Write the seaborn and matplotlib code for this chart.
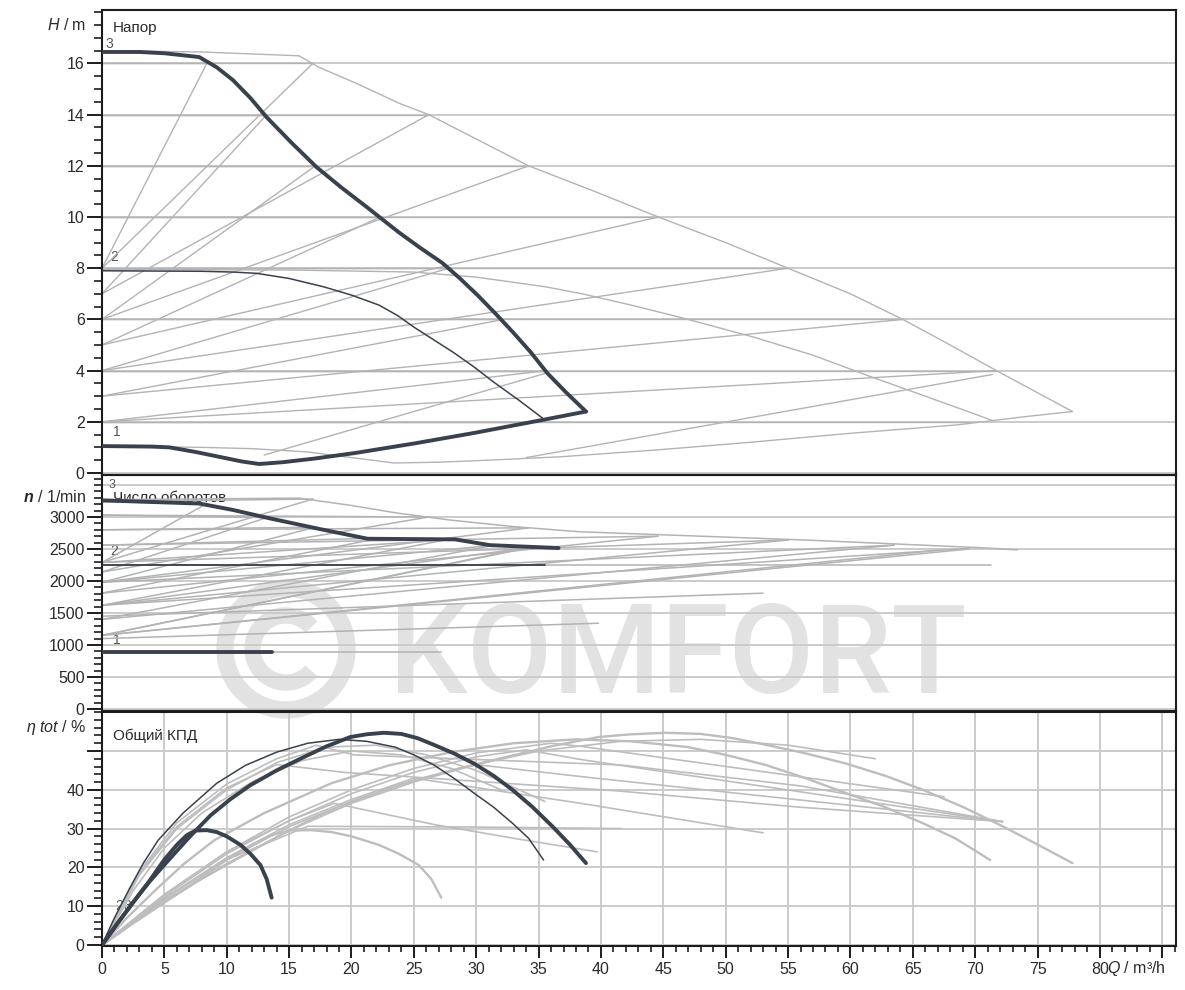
import matplotlib
matplotlib.use("Agg")
import matplotlib.pyplot as plt
from matplotlib.patches import Wedge
from matplotlib.ticker import MultipleLocator, FixedLocator
import pandas as pd
import seaborn as sns

# ---------------- head H(Q), single pump (dark) ----------------
H_Q_MAX = [0, 3, 5, 7.8, 9.2, 10.5, 11.9, 13.2, 15.2, 17.2, 19.2, 21.2, 23.8, 25.5,
           27.3, 28.7, 30.1, 31.5, 33.0, 34.4, 35.7, 37.2, 38.8]
H_MAX = [16.45, 16.45, 16.4, 16.25, 15.85, 15.35, 14.65, 13.9, 12.9, 11.95, 11.15,
         10.4, 9.4, 8.8, 8.2, 7.6, 6.95, 6.25, 5.47, 4.7, 3.9, 3.15, 2.4]
H_Q_MID = [0, 8, 10.5, 12.4, 15.0, 17.8, 20.0, 22.2, 23.7, 25.0, 26.6, 28.2, 29.8,
           31.4, 33.4, 35.3]
H_MID = [7.9, 7.88, 7.85, 7.8, 7.6, 7.27, 6.95, 6.56, 6.15, 5.7, 5.2, 4.7, 4.15,
         3.55, 2.85, 2.15]
H_Q_MIN = [0, 4.0, 5.4, 7.5, 9.5, 11.2, 12.6, 14.5, 17.0, 20.3, 25.0, 29.8, 35.3, 38.8]
H_MIN = [1.05, 1.03, 1.0, 0.82, 0.62, 0.45, 0.35, 0.42, 0.56, 0.78, 1.15, 1.56,
         2.07, 2.4]

# ---------------- head H(Q), parallel operation (grey) ----------------
P_Q_MAX = [0, 8, 15.8, 17.4, 20.5, 23.8, 26.2, 30.0, 34.2, 39.5, 44.6, 50.0, 55.0,
           60.0, 64.2, 68.0, 71.7, 77.8]
P_H_MAX = [16.5, 16.45, 16.3, 15.85, 15.2, 14.45, 14.0, 13.05, 12.0, 11.0, 10.0, 9.0,
           8.0, 7.0, 6.0, 5.0, 4.0, 2.4]
P_Q_MID = [0, 15, 25, 30, 33, 35.6, 38.5, 42.5, 46.6, 52.3, 57, 61.7, 66, 71.4]
P_H_MID = [7.95, 7.93, 7.85, 7.65, 7.45, 7.27, 7.0, 6.55, 6.05, 5.3, 4.6, 3.75, 3.0, 2.05]
P_Q_MIN = [0, 8, 12, 16.5, 20, 23.4, 27, 31, 36.7, 44.5, 52, 60, 68.6, 74, 77.8]
P_H_MIN = [1.05, 1.0, 0.95, 0.82, 0.6, 0.39, 0.42, 0.5, 0.63, 0.9, 1.2, 1.55, 1.88,
           2.2, 2.4]

# variable differential pressure lines (start head at Q=0 -> set head on max curve)
DPV_H0 = [2, 3, 4, 5, 6, 7, 8]
DPV_H_END = [4, 6, 8, 10, 12, 14, 16]
DPV_Q1 = [35.7, 32.2, 27.8, 22.3, 17.1, 13.2, 8.4]
DPV_Q2 = [71.7, 64.2, 55.0, 44.6, 34.2, 26.2, 16.9]
# constant differential pressure lines
DPC_H = [2, 4, 6, 8, 10, 12, 14, 16]
DPC_Q1 = [34.5, 35.7, 32.2, 27.8, 22.3, 17.1, 13.2, 8.4]
DPC_Q2 = [69.5, 71.7, 64.2, 55.0, 44.6, 34.2, 26.2, 16.9]
# further head lines rising from the minimum curve
EXTRA_H_Q = [[13, 35.6], [34, 71.4]]
EXTRA_H = [[0.7, 3.9], [0.6, 3.85]]

# ---------------- speed n(Q) ----------------
N_Q_MAX = [0, 7.8, 10.5, 13.3, 17.5, 21.3, 28.3, 31.1, 36.6]
N_MAX = [3260, 3210, 3110, 2985, 2810, 2660, 2650, 2560, 2515]
N_Q_MID = [0, 35.5]
N_MID = [2250, 2250]
N_Q_MIN = [0, 13.6]
N_MIN = [890, 890]
P_N_Q_MAX = [0, 15.8, 20.0, 23.7, 28, 33, 38.2, 48, 56.4, 63.5, 71, 73.4]
P_N_MAX = [3270, 3295, 3180, 3060, 2950, 2850, 2770, 2700, 2640, 2580, 2515, 2485]
P_N_Q_MID = [0, 71.3]
P_N_MID = [2250, 2250]
P_N_Q_MIN = [0, 27.2]
P_N_MIN = [890, 890]

DPV_N0 = [1150, 1400, 1620, 1810, 1980, 2140, 2290]
DPV_N1_END = [2530, 2560, 2640, 2670, 2840, 2990, 3210]
DPV_NQ1 = [34.5, 31.5, 27.5, 22.3, 17.1, 13.2, 8.4]
DPV_N2_END = [2500, 2560, 2640, 2700, 2830, 3000, 3280]
DPV_NQ2 = [69.5, 63.5, 55.0, 44.6, 34.2, 26.2, 16.9]
DPC_N0 = [1150, 1620, 1980, 2290, 2560, 2800, 3030, 3240]
DPC_N1_END = [2500, 2530, 2560, 2640, 2670, 2840, 2990, 3210]
DPC_NQ1 = [33.5, 34.5, 31.5, 27.5, 22.3, 17.1, 13.2, 8.4]
DPC_N2_END = [2480, 2510, 2560, 2640, 2700, 2830, 3000, 3280]
DPC_NQ2 = [67.0, 69.5, 63.5, 55.0, 44.6, 34.2, 26.2, 16.9]
EXTRA_N_Q = [[0, 39.8], [0, 53.0]]
EXTRA_N = [[1100, 1340], [1450, 1810]]

# ---------------- total efficiency eta(Q) ----------------
E_Q_MAX = [0, 1.2, 2.5, 3.8, 5.2, 7.0, 8.7, 10.3, 11.9, 14.0, 15.9, 18.0, 19.9, 21.2,
           22.6, 24.0, 25.3, 26.6, 28.2, 29.8, 31.4, 32.9, 34.5, 36.1, 37.5, 38.8]
E_MAX = [0, 5.4, 11, 16.3, 21.4, 27.8, 33.4, 37.6, 41.2, 45, 48, 51.2, 53.6, 54.3,
         54.7, 54.4, 53.3, 51.6, 49.4, 46.8, 43.6, 40.0, 35.6, 30.6, 25.9, 21.1]
E_Q_MID = [0, 1.0, 2.2, 3.3, 4.5, 6.5, 9.2, 11.5, 14, 16.5, 19, 21.2, 23.5, 25.0,
           26.6, 28.2, 29.8, 31.4, 32.9, 34.2, 35.4]
E_MID = [0, 7, 14.5, 21, 27, 34, 41.7, 46.3, 49.7, 52, 53, 52.5, 51, 49, 46.4, 43,
         39.2, 35.5, 31.4, 27.5, 21.9]
E_Q_MIN = [0, 1.2, 2.5, 3.8, 5, 6.0, 6.8, 7.5, 8.4, 9.2, 10, 11.1, 11.9, 12.7, 13.2, 13.6]
E_MIN = [0, 5.4, 11, 16.5, 22, 25.8, 28.3, 29.5, 29.6, 29.1, 28, 25.8, 23.5, 20.6,
         17, 12.2]

P_E_Q_MAX = [0, 2.4, 5, 7.6, 10.4, 14, 17.4, 20.6, 23.8, 28, 31.8, 36, 39.8, 42.4,
             45.2, 48, 50.6, 53.2, 56.4, 59.6, 62.8, 65.8, 69, 72.2, 75, 77.8]
P_E_MAX = [0, 5.4, 11, 16.3, 21.4, 27.8, 33.4, 37.6, 41.2, 45, 48, 51.2, 53.6, 54.3,
           54.7, 54.4, 53.3, 51.6, 49.4, 46.8, 43.6, 40.0, 35.6, 30.6, 25.9, 21.1]
P_E_Q_MID = [0, 2, 4.4, 6.6, 9, 13, 18.4, 23, 28, 33, 38, 42.4, 47, 50, 53.2, 56.4,
             59.6, 62.8, 65.8, 68.4, 71.2]
P_E_MID = [0, 7, 14.5, 21, 27, 34, 41.7, 46.3, 49.7, 52, 53, 52.5, 51, 49, 46.4, 43,
           39.2, 35.5, 31.4, 27.5, 21.9]
P_E_Q_MIN = [0, 2.4, 5, 7.6, 10, 12, 13.6, 15, 16.8, 18.4, 20, 22.2, 23.8, 25.4, 26.4, 27.2]
P_E_MIN = [0, 5.4, 11, 16.5, 22, 25.8, 28.3, 29.5, 29.6, 29.1, 28, 25.8, 23.5, 20.6,
           17, 12.2]

# efficiency along the control lines
CTRL_E_Q = [
    [0, 3, 6, 10, 14, 17.2, 20.2, 41.6, 56, 72.2],
    [0, 3, 6, 10, 14, 19.4, 41.4, 56, 72.2],
    [0, 3, 6, 10, 14, 18, 22, 26, 30, 35.5],
    [0, 2.5, 5, 8, 12, 16, 20, 24, 28, 32],
    [0, 5, 10, 16.5, 30, 41.6],
    [0, 5, 10, 15, 18.6, 26.7, 33, 39.7],
    [0, 5, 10, 15, 20, 25, 38.4, 53],
    [0, 5, 10, 15, 20, 25, 30, 38.4, 72.2],
    [0, 5, 10, 15, 20, 25, 30, 34, 38.4, 72.2],
    [0, 5, 10, 15, 20, 25, 30, 36, 38.4, 67.5],
    [0, 5, 10, 15, 20, 25, 30, 35, 41.6, 48, 55, 62],
]
CTRL_E = [
    [0, 19, 31.5, 41.5, 48, 51.5, 49, 46.4, 41, 31.8],
    [0, 18.5, 30.5, 40.5, 46.5, 44.5, 39.7, 35.5, 31.8],
    [0, 18, 30, 40, 47, 51, 51.5, 49, 45, 37],
    [0, 14, 25, 34, 42, 47.5, 50, 49, 45.5, 40],
    [0, 12, 22, 30.6, 30.4, 30],
    [0, 13, 24, 32, 36.5, 31, 27.5, 24],
    [0, 12, 22.5, 31, 37.5, 43, 36.5, 28.9],
    [0, 12, 22, 30.5, 37, 42.5, 46.5, 43.4, 31.8],
    [0, 12.5, 23.5, 32, 39, 44.5, 48.5, 50.3, 47.8, 31.8],
    [0, 13, 24, 33, 40, 45.5, 49.5, 52, 51.2, 38.2],
    [0, 11.5, 21, 29.5, 36.5, 42, 46.5, 50, 52.5, 53, 51.5, 48],
]

X_TICKS = list(range(0, 90, 5))
X_LABELS = [str(v) for v in range(0, 85, 5)] + [""]

# ---------------- styling ----------------
sns.set_theme(style="white")
plt.rcParams["font.family"] = ["Liberation Sans", "DejaVu Sans"]
plt.rcParams["mathtext.fontset"] = "custom"
plt.rcParams["mathtext.rm"] = "Liberation Sans"
plt.rcParams["mathtext.it"] = "Liberation Sans:italic"
plt.rcParams["mathtext.bf"] = "Liberation Sans:bold:italic"

DARK = "#39414d"
GREY = "#b3b3b3"
GREY_E = "#bdbdbd"
GRID = "#cbcbcb"
FRAME = "#1c1c1c"
TXT = "#2a2a2a"
LBL = "#555555"
WM = "#e2e2e2"

W, HP = 1185, 990
fig = plt.figure(figsize=(W / 100, HP / 100), dpi=100)
fig.patch.set_facecolor("white")


def panel(top, bottom, left=102, right=1176):
    return fig.add_axes([left / W, 1 - bottom / HP, (right - left) / W, (bottom - top) / HP])


ax_h = panel(10, 475)
ax_n = panel(475, 711)
ax_e = panel(712, 946)


def line(ax, q, v, color, lw, z):
    sns.lineplot(x=q, y=v, ax=ax, color=color, linewidth=lw, sort=False,
                 estimator=None, legend=False, zorder=z)


def group(ax, qs, vs, color, lw, z):
    rows = []
    for i, (q, v) in enumerate(zip(qs, vs)):
        for a, b in zip(q, v):
            rows.append((i, a, b))
    df = pd.DataFrame(rows, columns=["curve", "Q", "val"])
    sns.lineplot(data=df, x="Q", y="val", units="curve", estimator=None, sort=False,
                 color=color, linewidth=lw, ax=ax, legend=False, zorder=z)


# ---- head panel ----
qs, vs = [], []
for h0, h1, q1, q2 in zip(DPV_H0, DPV_H_END, DPV_Q1, DPV_Q2):
    qs += [[0, q1], [0, q2]]
    vs += [[h0, h1], [h0, h1]]
for h, q1, q2 in zip(DPC_H, DPC_Q1, DPC_Q2):
    qs += [[0, q1], [0, q2]]
    vs += [[h, h], [h, h]]
qs += EXTRA_H_Q
vs += EXTRA_H
qs += [P_Q_MAX, P_Q_MID, P_Q_MIN]
vs += [P_H_MAX, P_H_MID, P_H_MIN]
group(ax_h, qs, vs, GREY, 1.0, 2)
line(ax_h, H_Q_MID, H_MID, DARK, 1.1, 4)
line(ax_h, H_Q_MAX, H_MAX, DARK, 2.8, 5)
line(ax_h, H_Q_MIN, H_MIN, DARK, 2.8, 5)

# ---- speed panel ----
qs, vs = [], []
for n0, n1, q1, n2, q2 in zip(DPV_N0, DPV_N1_END, DPV_NQ1, DPV_N2_END, DPV_NQ2):
    qs += [[0, q1], [0, q2]]
    vs += [[n0, n1], [n0, n2]]
for n0, n1, q1, n2, q2 in zip(DPC_N0, DPC_N1_END, DPC_NQ1, DPC_N2_END, DPC_NQ2):
    qs += [[0, q1], [0, q2]]
    vs += [[n0, n1], [n0, n2]]
qs += EXTRA_N_Q
vs += EXTRA_N
qs += [P_N_Q_MAX, P_N_Q_MID, P_N_Q_MIN]
vs += [P_N_MAX, P_N_MID, P_N_MIN]
group(ax_n, qs, vs, GREY, 1.1, 2)
line(ax_n, N_Q_MID, N_MID, DARK, 1.3, 4)
line(ax_n, N_Q_MAX, N_MAX, DARK, 2.8, 5)
line(ax_n, N_Q_MIN, N_MIN, DARK, 2.8, 5)

# ---- efficiency panel ----
group(ax_e, CTRL_E_Q, CTRL_E, GREY_E, 1.2, 2)
group(ax_e, [P_E_Q_MAX, P_E_Q_MID, P_E_Q_MIN], [P_E_MAX, P_E_MID, P_E_MIN], GREY_E, 1.7, 3)
line(ax_e, E_Q_MID, E_MID, DARK, 1.1, 4)
line(ax_e, E_Q_MAX, E_MAX, DARK, 2.8, 5)
line(ax_e, E_Q_MIN, E_MIN, DARK, 2.8, 5)

# ---- axes, ticks, grids ----
for ax in (ax_h, ax_n, ax_e):
    ax.set_xlim(0, 86.1)
    ax.set_facecolor("none")
    ax.set_xlabel("")
    ax.set_ylabel("")
    ax.set_axisbelow(True)
    for s in ax.spines.values():
        s.set_visible(True)
        s.set_color(FRAME)
        s.set_linewidth(1.5)
    ax.tick_params(axis="y", which="major", direction="out", left=True, length=10.5,
                   width=1.4, color=FRAME, labelsize=11.5, labelcolor=TXT, pad=2)
    ax.tick_params(axis="y", which="minor", direction="out", left=True, length=5.5,
                   width=1.2, color=FRAME)

for ax in (ax_h, ax_n):
    ax.tick_params(axis="x", which="both", bottom=False, labelbottom=False)

ax_h.set_ylim(-0.08, 18.09)
ax_h.yaxis.set_major_locator(FixedLocator(list(range(0, 17, 2))))
ax_h.yaxis.set_minor_locator(MultipleLocator(0.5))
ax_h.grid(axis="y", which="major", color=GRID, linewidth=1.4)

ax_n.set_ylim(-31, 3656)
ax_n.yaxis.set_major_locator(FixedLocator(list(range(0, 3001, 500))))
ax_n.yaxis.set_minor_locator(MultipleLocator(100))
ax_n.grid(axis="y", which="major", color=GRID, linewidth=1.4)
ax_n.axhline(3500, color=GRID, linewidth=1.4, zorder=0.5)

ax_e.set_ylim(-0.26, 60.05)
ax_e.yaxis.set_major_locator(FixedLocator(list(range(0, 51, 10))))
ax_e.set_yticklabels(["0", "10", "20", "30", "40", ""])
ax_e.yaxis.set_minor_locator(MultipleLocator(2))
ax_e.xaxis.set_major_locator(FixedLocator(X_TICKS))
ax_e.set_xticklabels(X_LABELS)
ax_e.xaxis.set_minor_locator(MultipleLocator(1))
ax_e.tick_params(axis="x", which="major", direction="out", bottom=True, length=8.5,
                 width=1.4, color=FRAME, labelsize=11.5, labelcolor=TXT, pad=3)
ax_e.tick_params(axis="x", which="minor", direction="out", bottom=True, length=4.5,
                 width=1.2, color=FRAME)
ax_e.grid(axis="both", which="major", color=GRID, linewidth=1.4)

# ---- axis titles ----
ax_h.text(-1.3, 17.5, r"$H$ / m", ha="right", va="center", fontsize=11.5, color=TXT)
ax_n.text(-1.3, 3310, r"$\mathbf{n}$ / 1/min", ha="right", va="center", fontsize=11.5, color=TXT)
ax_e.text(-1.3, 56, r"$\eta\ tot$ / %", ha="right", va="center", fontsize=11.5, color=TXT)
ax_e.annotate(r"$Q$ / m³/h", xy=(80.6, 0), xycoords=("data", "axes fraction"),
              xytext=(0, -22), textcoords="offset pixels", ha="left", va="center",
              fontsize=11.5, color=TXT)

# ---- curve captions ----
ax_h.text(0.9, 17.4, "Напор", ha="left", va="center", fontsize=11, color=TXT, zorder=1)
ax_h.text(0.3, 16.75, "3", ha="left", va="center", fontsize=10, color=LBL, zorder=1)
ax_h.text(0.7, 8.45, "2", ha="left", va="center", fontsize=10, color=LBL, zorder=1)
ax_h.text(0.9, 1.6, "1", ha="left", va="center", fontsize=10, color=LBL, zorder=1)
ax_n.text(0.9, 3300, "Число оборотов", ha="left", va="center", fontsize=11, color=TXT, zorder=1)
ax_n.text(0.5, 3500, "3", ha="left", va="center", fontsize=9, color=LBL, zorder=1)
ax_n.text(0.7, 2470, "2", ha="left", va="center", fontsize=10, color=LBL, zorder=1)
ax_n.text(0.9, 1080, "1", ha="left", va="center", fontsize=10, color=LBL, zorder=1)
ax_e.text(0.9, 54, "Общий КПД", ha="left", va="center", fontsize=11, color=TXT, zorder=1)
ax_e.text(1.1, 10, "2", ha="left", va="center", fontsize=10, color=LBL, zorder=1)
ax_e.text(1.7, 10, "3", ha="left", va="center", fontsize=10, color=LBL, zorder=1)

# ---- watermark ----
wm = fig.text(389 / W, 1 - 693 / HP, "KOMFORT", fontsize=90, family="Roboto",
              weight="medium", color=WM, ha="left", va="baseline", zorder=-5)
fig.canvas.draw()
bb = wm.get_window_extent()
wm.set_fontsize(90 * 578 / bb.width)
cx, cy = 2.86, (HP - 649) / 100
fig.add_artist(Wedge((cx, cy), 0.69, 0, 360, width=0.16, transform=fig.dpi_scale_trans,
                     color=WM, zorder=-5))
fig.add_artist(Wedge((cx, cy), 0.41, 42, 318, width=0.15, transform=fig.dpi_scale_trans,
                     color=WM, zorder=-5))

fig.savefig("out.png", dpi=100, facecolor="white")
